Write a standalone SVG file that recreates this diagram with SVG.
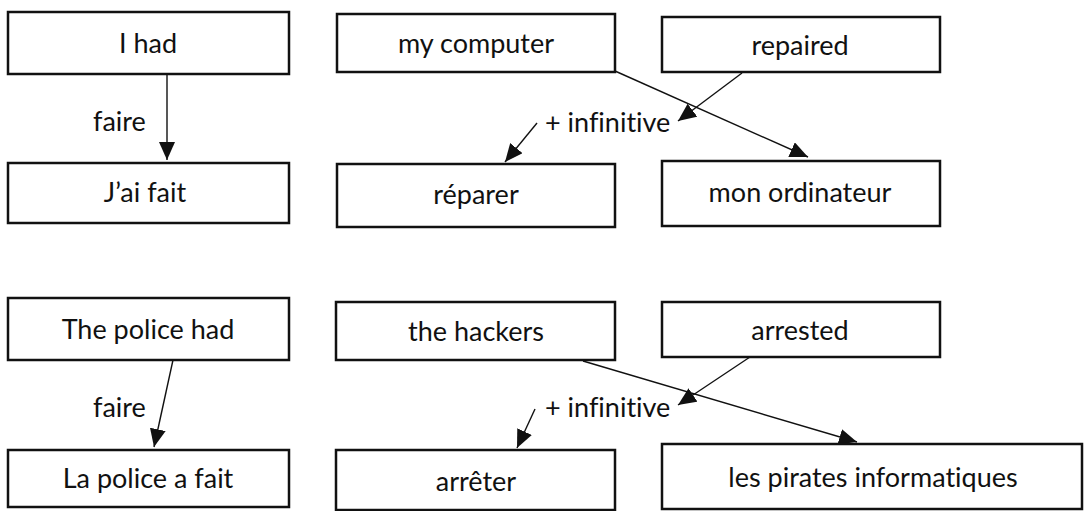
<svg xmlns="http://www.w3.org/2000/svg" width="1085" height="511" viewBox="0 0 1085 511">
<style>
.box{fill:#fff;stroke:#111;stroke-width:2.5}
.t,.l{font-family:Lato,"Open Sans",sans-serif;font-size:27px;fill:#111;font-variant-ligatures:none;font-feature-settings:"liga" 0,"clig" 0,"dlig" 0}
.t{text-anchor:middle}
.c{stroke:#111;stroke-width:1.4;fill:none;marker-end:url(#ah)}
</style>
<defs>
<marker id="ah" markerUnits="userSpaceOnUse" markerWidth="20" markerHeight="18" refX="18" refY="8" orient="auto">
<path d="M0,0 L18,8 L0,16 Z" fill="#111"/>
</marker>
</defs>
<g id="connectors">
<line class="c" x1="167" y1="74" x2="167" y2="160"/>
<line class="c" x1="742" y1="73" x2="678" y2="121"/>
<line class="c" x1="537" y1="123" x2="505" y2="162"/>
<line class="c" x1="615" y1="71" x2="808" y2="157"/>
<line class="c" x1="173" y1="360" x2="154" y2="447"/>
<line class="c" x1="750" y1="357" x2="678" y2="405"/>
<line class="c" x1="535" y1="409" x2="517" y2="448"/>
<line class="c" x1="583" y1="361" x2="857" y2="442"/>
</g>
<g id="labels">
<text class="l" x="93" y="131">faire</text>
<text class="l" x="545" y="132">+ infinitive</text>
<text class="l" x="93" y="417">faire</text>
<text class="l" x="545" y="417">+ infinitive</text>
</g>
<g id="n1"><rect class="box" x="8" y="12" width="281" height="62"/><text class="t" x="148" y="53">I had</text></g>
<g id="n2"><rect class="box" x="337" y="14" width="278" height="58"/><text class="t" x="476" y="53">my computer</text></g>
<g id="n3"><rect class="box" x="662" y="17" width="278" height="55"/><text class="t" x="800" y="55">repaired</text></g>
<g id="n4"><rect class="box" x="8" y="163" width="281" height="60"/><text class="t" x="145" y="202">J’ai fait</text></g>
<g id="n5"><rect class="box" x="337" y="164" width="278" height="63"/><text class="t" x="476" y="204">réparer</text></g>
<g id="n6"><rect class="box" x="662" y="161" width="278" height="65"/><text class="t" x="800" y="202">mon ordinateur</text></g>
<g id="n7"><rect class="box" x="8" y="298" width="281" height="62"/><text class="t" x="148" y="339">The police had</text></g>
<g id="n8"><rect class="box" x="336" y="302" width="279" height="58"/><text class="t" x="476" y="341">the hackers</text></g>
<g id="n9"><rect class="box" x="662" y="302" width="278" height="55"/><text class="t" x="800" y="340">arrested</text></g>
<g id="n10"><rect class="box" x="8" y="450" width="281" height="57"/><text class="t" x="148" y="488">La police a fait</text></g>
<g id="n11"><rect class="box" x="336" y="450" width="279" height="60"/><text class="t" x="476" y="491">arrêter</text></g>
<g id="n12"><rect class="box" x="662" y="444" width="420" height="65"/><text class="t" x="873" y="487">les pirates informatiques</text></g>
</svg>
